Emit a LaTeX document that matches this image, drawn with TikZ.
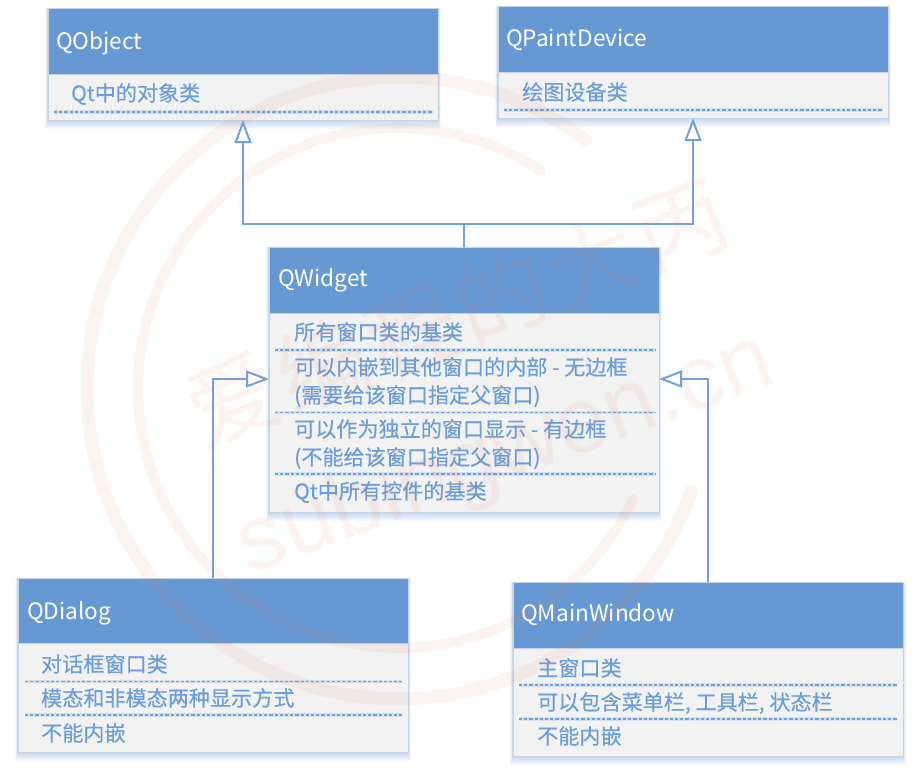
\documentclass[tikz,border=0pt]{standalone}
\usepackage{fontspec}
\setmainfont{Noto Sans CJK SC}
\newfontfamily\memberfont[FakeBold=0.3]{Noto Sans CJK SC}
\newfontfamily\wmlatin{Liberation Sans}
\usetikzlibrary{arrows.meta,backgrounds,calc}
\definecolor{hdrblue}{HTML}{6699D4}
\definecolor{bodygray}{HTML}{F2F2F2}
\definecolor{edgeblue}{HTML}{C4D2E4}
\definecolor{lineblue}{HTML}{6FA2DC}
\definecolor{txtblue}{HTML}{6A9DDA}
\definecolor{wmred}{HTML}{F06A45}
\newcommand{\softshadow}[1]{%
  \foreach \k in {1,...,9}{
    \fill[lineblue,opacity=.05] ($(#1.south west)+(-\k*.3,\k)$) rectangle ($(#1.north east)+(\k*.3,0)$);
  }}
\tikzset{
  x=1pt,y=-1pt,
  classbox/.style={draw=edgeblue,line width=.9pt,fill=bodygray,minimum width=390pt,anchor=north west,inner sep=0pt,outer sep=0pt},
  classhead/.style={draw=edgeblue,line width=.9pt,fill=hdrblue,minimum width=390pt,anchor=north west,inner sep=0pt,outer sep=0pt},
  classname/.style={anchor=base west,inner sep=0pt,text=white,font=\fontsize{22.6}{24}\selectfont},
  member/.style={anchor=base west,inner sep=0pt,text=txtblue,font=\memberfont\fontsize{21.1}{24}\selectfont},
  sep/.style={lineblue,line width=1.5pt,dash pattern=on 3.2pt off 2pt,
    preaction={draw=lineblue,opacity=.22,line width=3.4pt,solid}},
  inherit/.style={draw=lineblue,line width=2pt,-{Triangle[open,length=23pt,width=17pt,line width=2pt,fill=white]}},
  plainline/.style={draw=lineblue,line width=2pt},
  wmring/.style={draw=wmred,opacity=.07,line cap=round},
  wmtext/.style={text=wmred,text opacity=.07,inner sep=0pt},
}
\begin{document}
\begin{tikzpicture}
\useasboundingbox (0,0) rectangle (920,771);

% QObject
\node[classbox,minimum height=112pt] (qo) at (48,8) {};
\node[classhead,minimum height=66pt] (qoh) at (48,8) {};
\node[classname] (qot) at (56,49) {QObject};
\node[member] (qo1) at (71,101) {Qt中的对象类};
\draw[sep] (54,112) -- (433,112);

% QPaintDevice
\node[classbox,minimum height=112pt] (qp) at (498,6) {};
\node[classhead,minimum height=66pt] (qph) at (498,6) {};
\node[classname] (qpt) at (506,46) {QPaintDevice};
\node[member] (qp1) at (522,100) {绘图设备类};
\draw[sep] (504,110) -- (883,110);

% QWidget
\node[classbox,minimum height=265pt] (qw) at (269,247) {};
\node[classhead,minimum height=66pt] (qwh) at (269,247) {};
\node[classname] (qwt) at (278,286) {QWidget};
\node[member] (qw1) at (294,340) {所有窗口类的基类};
\draw[sep] (275,350) -- (655,350);
\node[member] (qw2) at (294,375) {可以内嵌到其他窗口的内部 - 无边框};
\node[member] (qw3) at (294,403) {(需要给该窗口指定父窗口)};
\draw[sep] (275,412.5) -- (655,412.5);
\node[member] (qw4) at (294,437) {可以作为独立的窗口显示 - 有边框};
\node[member] (qw5) at (294,465) {(不能给该窗口指定父窗口)};
\draw[sep] (275,474) -- (655,474);
\node[member] (qw6) at (294,499) {Qt中所有控件的基类};

% QDialog
\node[classbox,minimum height=174pt] (qd) at (18,578) {};
\node[classhead,minimum height=65pt] (qdh) at (18,578) {};
\node[classname] (qdt) at (27,619) {QDialog};
\node[member] (qd1) at (41,672) {对话框窗口类};
\draw[sep] (25,681.5) -- (402,681.5);
\node[member] (qd2) at (41,706) {模态和非模态两种显示方式};
\draw[sep] (25,715) -- (402,715);
\node[member] (qd3) at (41,741) {不能内嵌};

% QMainWindow
\node[classbox,minimum height=174pt] (qm) at (513,582) {};
\node[classhead,minimum height=66pt] (qmh) at (513,582) {};
\node[classname] (qmt) at (521,621) {QMainWindow};
\node[member] (qm1) at (537,676) {主窗口类};
\draw[sep] (519,685) -- (897,685);
\node[member] (qm2) at (537,710) {可以包含菜单栏, 工具栏, 状态栏};
\draw[sep] (519,719) -- (897,719);
\node[member] (qm3) at (537,744) {不能内嵌};

% connectors
\coordinate (junction) at (464,224);
\coordinate (wleft) at (269,379);
\coordinate (wright) at (659,379);
\draw[plainline] (qw.north) -- (junction);
\draw[inherit] (junction) -| (qo.south);
\draw[inherit] (junction) -| (qp.south);
\draw[inherit] (qd.north) |- (wleft);
\draw[inherit] (qm.north) |- (wright);

% shadows
\begin{scope}[on background layer]
\fill[white] (0,0) rectangle (920,771);
\softshadow{qo}
\softshadow{qp}
\softshadow{qw}
\softshadow{qd}
\softshadow{qm}
\end{scope}

% watermark
\draw[wmring,line width=13pt] (398,388) ++(-52.8:311) arc[start angle=-52.8,end angle=-340.7,radius=311];
\draw[wmring,line width=10pt] (398,388) ++(-56.6:260) arc[start angle=-56.6,end angle=-334.7,radius=260];
\foreach \c/\px/\py/\nm in {爱/233/400/wa,编/323/365/wb,程/412/331/wc,的/502/296/wd,大/592/262/we,丙/682/227/wf}{
  \node[wmtext,rotate=21,font=\fontsize{92}{96}\selectfont] (\nm) at (\px,\py) {\c};
}
\node[wmtext,rotate=20,font=\wmlatin\fontsize{92}{96}\selectfont] (wurl) at (506,456) {subingwen.cn};
\end{tikzpicture}
\end{document}
